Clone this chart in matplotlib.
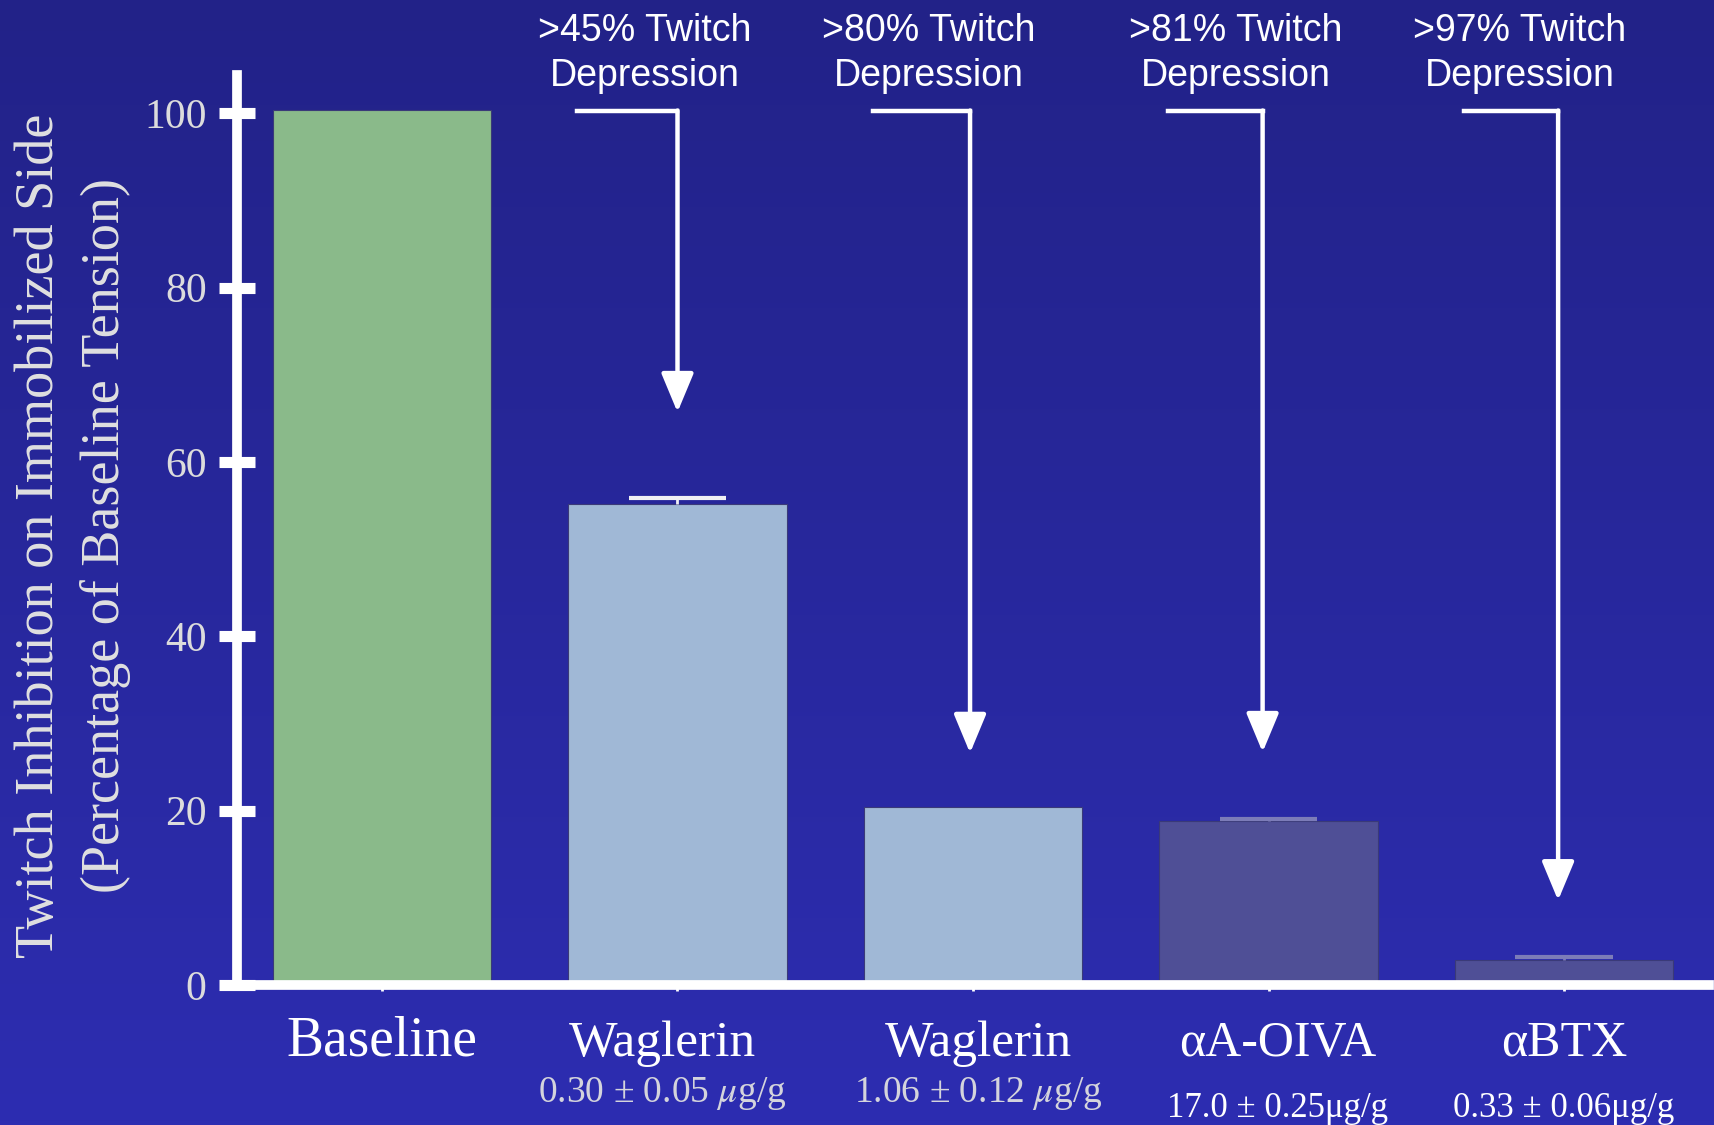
import numpy as np
import matplotlib.pyplot as plt
from matplotlib import transforms

plt.rcParams['font.family'] = 'Liberation Serif'
plt.rcParams['mathtext.fontset'] = 'stix'

# bar data: twitch tension on the immobilized side (% of baseline)
groups = ['Baseline', 'Waglerin', 'Waglerin', '\u03b1A-OIVA', '\u03b1BTX']
doses = ['', '0.30 \u00b1 0.05 $\\mu$g/g', '1.06 \u00b1 0.12 $\\mu$g/g',
         '17.0 \u00b1 0.25\u03bcg/g', '0.33 \u00b1 0.06\u03bcg/g']
tension = [100.4, 55.2, 20.4, 18.8, 2.9]
tension_err = [0, 0.6, 0, 0.2, 0.3]
depression = ['>45% Twitch\nDepression', '>80% Twitch\nDepression',
              '>81% Twitch\nDepression', '>97% Twitch\nDepression']
arrow_tips = [65.7, 26.6, 26.7, 9.7]

bar_colors = ['#8aba8a', '#a0b8d6', '#a0b8d6', '#4f4f96', '#4f4f96']
err_colors = ['none', '#f0f0f4', 'none', '#7c7cb8', '#7c7cb8']
dose_colors = ['w', '#d4d4dc', '#d4d4dc', 'w', 'w']
name_sizes = [40, 37, 37, 36, 36]
dose_sizes = [27, 27, 27, 25, 25]
name_dx = [0, -0.05, 0.02, 0.03, 0]

fig = plt.figure(figsize=(17.15, 11.25), dpi=100)

# blue gradient backdrop
bg = fig.add_axes([0, 0, 1, 1], zorder=-10)
top = np.array([34, 34, 136]) / 255
bot = np.array([45, 45, 177]) / 255
t = np.linspace(0, 1, 256)[:, None, None]
grad = top * (1 - t) + bot * t
bg.imshow(np.repeat(grad, 4, axis=1), aspect='auto', extent=[0, 1, 0, 1])
bg.axis('off')

ax = fig.add_axes([0.1383, 0.1245, 0.8581, 0.809])
ax.set_facecolor('none')
x = np.arange(len(groups))

ax.bar(x, tension, width=0.74, color=bar_colors, edgecolor='#3a3a78',
       linewidth=0.8, zorder=2)
# upper error whiskers only
for i in range(len(x)):
    if tension_err[i] > 0:
        hi = tension[i] + tension_err[i]
        ax.vlines(x[i], tension[i], hi, color=err_colors[i], lw=2, zorder=3)
        ax.hlines(hi, x[i] - 0.165, x[i] + 0.165, color=err_colors[i],
                  lw=3, zorder=3)

ax.set_xlim(-0.49, 4.49)
ax.set_ylim(0, 104.4)

for s in ['top', 'right']:
    ax.spines[s].set_visible(False)
for s in ['left', 'bottom']:
    ax.spines[s].set_color('white')
    ax.spines[s].set_linewidth(7)
    ax.spines[s].set_zorder(4)

ax.set_yticks([0, 20, 40, 60, 80, 100])
ax.tick_params(axis='y', direction='inout', length=26, width=8, color='white',
               labelsize=30, labelcolor='#dcdcdc', pad=9)
ax.set_xticks(x)
ax.set_xticklabels([''] * len(x))
ax.tick_params(axis='x', direction='out', length=4, width=2, color='white')

# category names and doses under the axis
for i in range(len(x)):
    ax.annotate(groups[i], xy=(x[i] + name_dx[i], 0),
                xycoords=('data', 'axes fraction'), xytext=(0, -51),
                textcoords='offset points', ha='center', va='baseline',
                fontsize=name_sizes[i], color='white')
    dy = -84 if i < 3 else -95
    ax.annotate(doses[i], xy=(x[i] + name_dx[i], 0),
                xycoords=('data', 'axes fraction'), xytext=(0, dy),
                textcoords='offset points', ha='center', va='baseline',
                fontsize=dose_sizes[i], color=dose_colors[i])

fig.text(0.0233, 0.5236, 'Twitch Inhibition on Immobilized Side', rotation=90,
         ha='center', va='center', fontsize=39, color='#e0e0e0')
fig.text(0.0618, 0.5236, '(Percentage of Baseline Tension)', rotation=90,
         ha='center', va='center', fontsize=39, color='#e0e0e0')

# elbow arrows with the depression notes
trans = transforms.blended_transform_factory(ax.transData, fig.transFigure)
text_dx = [-0.11, -0.15, -0.11, -0.15]
arrow_dx = [0.0, -0.01, -0.02, -0.02]
y_top = 100.3
for k, i in enumerate(x[1:]):
    xv = i + arrow_dx[k]
    ax.plot([i - 0.34, xv], [y_top, y_top], color='white', lw=3.2,
            solid_capstyle='projecting', clip_on=False, zorder=5)
    ax.annotate('', xy=(xv, arrow_tips[k]), xytext=(xv, y_top),
                arrowprops=dict(arrowstyle='-|>,head_length=2.4,head_width=1.0',
                                mutation_scale=10, color='white', lw=3.2,
                                shrinkA=0, shrinkB=0),
                annotation_clip=False, zorder=5)
    fig.text(i + text_dx[k], 0.9525, depression[k], transform=trans,
             ha='center', va='center', fontsize=27, color='white',
             family='Liberation Sans', linespacing=1.31)

fig.savefig('out.png', dpi=100)
